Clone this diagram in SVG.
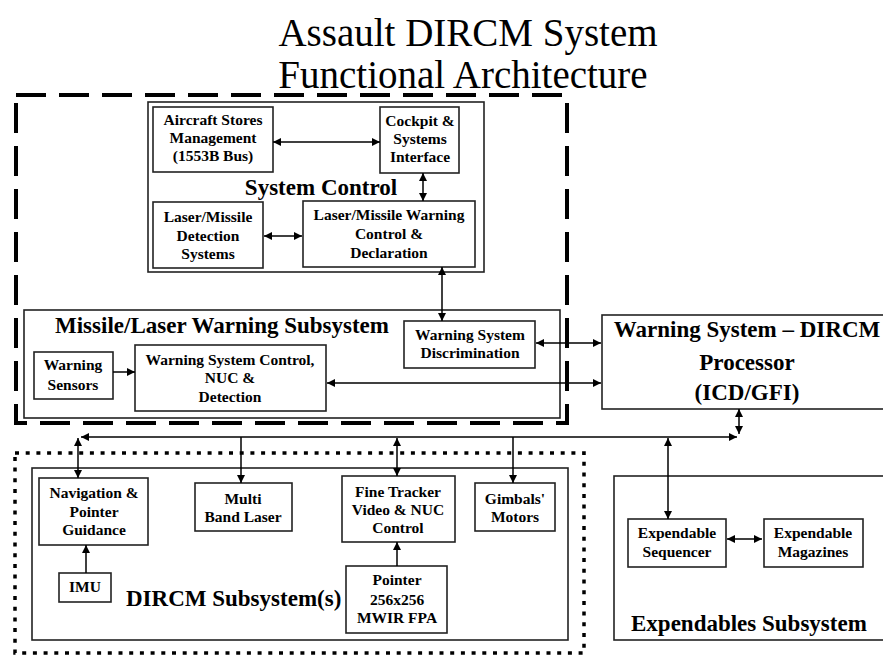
<svg xmlns="http://www.w3.org/2000/svg" width="883" height="656" viewBox="0 0 883 656">
  <style>
    .title { font-family: "Liberation Serif", "Times New Roman", serif; font-size: 39px; fill: #000; text-anchor: middle; }
    .box { fill: #fff; stroke: #222; stroke-width: 1.6; }
    .frame { fill: none; stroke: #222; stroke-width: 1.6; }
    .lbl { font-family: "Liberation Serif", "Times New Roman", serif; font-weight: bold; font-size: 15.5px; fill: #000; text-anchor: middle; }
    .big { font-family: "Liberation Serif", "Times New Roman", serif; font-weight: bold; font-size: 23px; fill: #000; }
    .dash { fill: none; stroke: #000; stroke-width: 4; stroke-dasharray: 30 13; }
    .dots { fill: none; stroke: #000; stroke-width: 3.5; stroke-dasharray: 4 6.7; }
    .conn line, .conn path { stroke: #000; stroke-width: 1.5; fill: none; }
  </style>
  <defs>
    <marker id="ah" viewBox="0 0 10 10" refX="10" refY="5" markerWidth="9" markerHeight="8" markerUnits="userSpaceOnUse" orient="auto-start-reverse">
      <path d="M0,0 L10,5 L0,10 z" fill="#000"/>
    </marker>
  </defs>

  <rect width="883" height="656" fill="#fff"/>

  <!-- heading -->
  <text class="title" x="468" y="46">Assault DIRCM System</text>
  <text class="title" x="463" y="88">Functional Architecture</text>

  <!-- subsystem frames -->
  <g id="missile-laser-group">
    <rect class="frame" x="24" y="310" width="536" height="108"/>
    <text class="big" x="55" y="333">Missile/Laser Warning Subsystem</text>
  </g>
  <rect class="dash" x="16" y="95" width="551" height="328"/>

  <g id="system-control">
    <rect class="frame" x="148" y="102" width="336" height="170"/>
    <text class="big" x="321" y="195" text-anchor="middle">System Control</text>
  </g>

  <g id="processor">
    <rect class="box" x="602" y="315" width="300" height="94"/>
    <text class="big" x="747" y="337" text-anchor="middle">Warning System – DIRCM</text>
    <text class="big" x="747" y="370" text-anchor="middle">Processor</text>
    <text class="big" x="747" y="400" text-anchor="middle">(ICD/GFI)</text>
  </g>

  <g id="dircm-group">
    <rect class="dots" x="15" y="453" width="569" height="200"/>
    <rect class="frame" x="32" y="468" width="536" height="172"/>
    <text class="big" x="126" y="606">DIRCM Subsystem(s)</text>
  </g>

  <g id="expendables-group">
    <rect class="frame" x="614" y="476" width="290" height="164"/>
    <text class="big" x="631" y="631">Expendables Subsystem</text>
  </g>

  <!-- nodes -->
  <g id="aircraft-stores">
    <rect class="box" x="153" y="107" width="120" height="65"/>
    <text class="lbl" x="213" y="125">Aircraft Stores</text>
    <text class="lbl" x="213" y="143">Management</text>
    <text class="lbl" x="213" y="161">(1553B Bus)</text>
  </g>
  <g id="cockpit">
    <rect class="box" x="380" y="107" width="79" height="66"/>
    <text class="lbl" x="420" y="126">Cockpit &amp;</text>
    <text class="lbl" x="420" y="144">Systems</text>
    <text class="lbl" x="420" y="162">Interface</text>
  </g>
  <g id="detection-systems">
    <rect class="box" x="153" y="202" width="110" height="66"/>
    <text class="lbl" x="208" y="222">Laser/Missile</text>
    <text class="lbl" x="208" y="241">Detection</text>
    <text class="lbl" x="208" y="259">Systems</text>
  </g>
  <g id="warning-control">
    <rect class="box" x="303" y="201" width="172" height="66"/>
    <text class="lbl" x="389" y="220">Laser/Missile Warning</text>
    <text class="lbl" x="389" y="239">Control &amp;</text>
    <text class="lbl" x="389" y="258">Declaration</text>
  </g>
  <g id="discrimination">
    <rect class="box" x="404" y="321" width="131" height="47"/>
    <text class="lbl" x="470" y="340">Warning System</text>
    <text class="lbl" x="470" y="358">Discrimination</text>
  </g>
  <g id="warning-sensors">
    <rect class="box" x="34" y="352" width="79" height="47"/>
    <text class="lbl" x="73" y="370">Warning</text>
    <text class="lbl" x="73" y="390">Sensors</text>
  </g>
  <g id="nuc-detection">
    <rect class="box" x="135" y="345" width="191" height="66"/>
    <text class="lbl" x="230" y="365">Warning System Control,</text>
    <text class="lbl" x="230" y="383">NUC &amp;</text>
    <text class="lbl" x="230" y="402">Detection</text>
  </g>
  <g id="navigation">
    <rect class="box" x="39" y="478" width="109" height="67"/>
    <text class="lbl" x="94" y="498">Navigation &amp;</text>
    <text class="lbl" x="94" y="517">Pointer</text>
    <text class="lbl" x="94" y="535">Guidance</text>
  </g>
  <g id="multi-band-laser">
    <rect class="box" x="195" y="483" width="97" height="48"/>
    <text class="lbl" x="243" y="504">Multi</text>
    <text class="lbl" x="243" y="522">Band Laser</text>
  </g>
  <g id="fine-tracker">
    <rect class="box" x="342" y="476" width="113" height="66"/>
    <text class="lbl" x="398" y="497">Fine Tracker</text>
    <text class="lbl" x="398" y="515">Video &amp; NUC</text>
    <text class="lbl" x="398" y="533">Control</text>
  </g>
  <g id="gimbals">
    <rect class="box" x="475" y="483" width="80" height="48"/>
    <text class="lbl" x="515" y="504">Gimbals'</text>
    <text class="lbl" x="515" y="522">Motors</text>
  </g>
  <g id="imu">
    <rect class="box" x="59" y="573" width="52" height="29"/>
    <text class="lbl" x="85" y="592">IMU</text>
  </g>
  <g id="pointer-fpa">
    <rect class="box" x="346" y="566" width="101" height="67"/>
    <text class="lbl" x="397" y="585">Pointer</text>
    <text class="lbl" x="397" y="605">256x256</text>
    <text class="lbl" x="397" y="623">MWIR FPA</text>
  </g>
  <g id="sequencer">
    <rect class="box" x="628" y="519" width="98" height="48"/>
    <text class="lbl" x="677" y="538">Expendable</text>
    <text class="lbl" x="677" y="557">Sequencer</text>
  </g>
  <g id="magazines">
    <rect class="box" x="764" y="519" width="99" height="48"/>
    <text class="lbl" x="813" y="538">Expendable</text>
    <text class="lbl" x="813" y="557">Magazines</text>
  </g>

  <!-- connectors -->
  <g id="connectors" class="conn">
    <line x1="273" y1="142" x2="380" y2="142" marker-start="url(#ah)" marker-end="url(#ah)"/>
    <line x1="423" y1="173" x2="423" y2="201" marker-start="url(#ah)" marker-end="url(#ah)"/>
    <line x1="264" y1="236" x2="302" y2="236" marker-start="url(#ah)" marker-end="url(#ah)"/>
    <line x1="442" y1="267" x2="442" y2="321" marker-start="url(#ah)" marker-end="url(#ah)"/>
    <line x1="113" y1="372" x2="135" y2="372" marker-end="url(#ah)"/>
    <line x1="536" y1="343" x2="601" y2="343" marker-start="url(#ah)" marker-end="url(#ah)"/>
    <line x1="327" y1="383" x2="601" y2="383" marker-start="url(#ah)" marker-end="url(#ah)"/>
    <!-- shared bus to the DIRCM and expendables subsystems -->
    <line x1="81" y1="437" x2="737" y2="437" marker-start="url(#ah)" marker-end="url(#ah)"/>
    <line x1="739" y1="409" x2="739" y2="434" marker-start="url(#ah)" marker-end="url(#ah)"/>
    <line x1="78" y1="438" x2="78" y2="478" marker-start="url(#ah)" marker-end="url(#ah)"/>
    <line x1="241" y1="437" x2="241" y2="483" marker-end="url(#ah)"/>
    <line x1="397" y1="438" x2="397" y2="476" marker-start="url(#ah)" marker-end="url(#ah)"/>
    <line x1="513" y1="437" x2="513" y2="483" marker-end="url(#ah)"/>
    <line x1="668" y1="438" x2="668" y2="519" marker-start="url(#ah)" marker-end="url(#ah)"/>
    <line x1="86" y1="573" x2="86" y2="545" marker-end="url(#ah)"/>
    <line x1="397" y1="566" x2="397" y2="542" marker-end="url(#ah)"/>
    <line x1="727" y1="539" x2="762" y2="539" marker-start="url(#ah)" marker-end="url(#ah)"/>
  </g>
</svg>
